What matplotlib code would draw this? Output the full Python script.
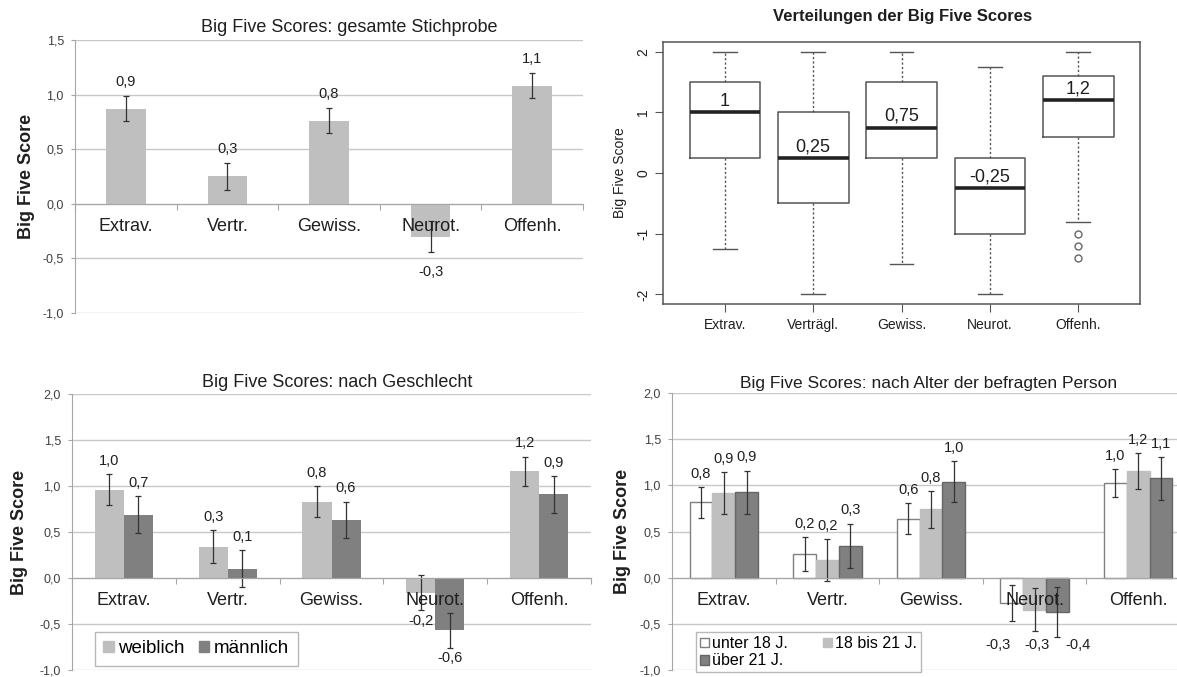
import matplotlib
matplotlib.use("Agg")
import matplotlib.pyplot as plt
from matplotlib.ticker import FuncFormatter, MultipleLocator
from matplotlib.patches import Patch
import numpy as np

plt.rcParams['font.family'] = ['Liberation Sans', 'DejaVu Sans']
plt.rcParams['axes.unicode_minus'] = False

W, H = 1177, 677

# ---------------- data ----------------
categories = ["Extrav.", "Vertr.", "Gewiss.", "Neurot.", "Offenh."]
box_categories = ["Extrav.", "Verträgl.", "Gewiss.", "Neurot.", "Offenh."]

# Panel 1: gesamte Stichprobe
total_means = [0.87, 0.25, 0.76, -0.30, 1.08]
total_err = [0.115, 0.125, 0.115, 0.14, 0.115]
total_labels = ["0,9", "0,3", "0,8", "-0,3", "1,1"]

# Panel 2: boxplot statistics
box_whislo = [-1.25, -2.0, -1.5, -2.0, -0.8]
box_q1 = [0.25, -0.5, 0.25, -1.0, 0.6]
box_med = [1.0, 0.25, 0.75, -0.25, 1.2]
box_q3 = [1.5, 1.0, 1.5, 0.25, 1.6]
box_whishi = [2.0, 2.0, 2.0, 1.75, 2.0]
box_fliers = [[], [], [], [], [-1.0, -1.2, -1.4]]
box_labels = ["1", "0,25", "0,75", "-0,25", "1,2"]

# Panel 3: nach Geschlecht
sex_names = ["weiblich", "männlich"]
female_means = [0.96, 0.34, 0.83, -0.16, 1.16]
female_err = [0.17, 0.18, 0.17, 0.19, 0.16]
female_labels = ["1,0", "0,3", "0,8", "-0,2", "1,2"]
male_means = [0.69, 0.10, 0.63, -0.57, 0.91]
male_err = [0.20, 0.20, 0.20, 0.19, 0.20]
male_labels = ["0,7", "0,1", "0,6", "-0,6", "0,9"]

# Panel 4: nach Alter
age_names = ["unter 18 J.", "18 bis 21 J.", "über 21 J."]
young_means = [0.815, 0.256, 0.64, -0.274, 1.025]
young_err = [0.165, 0.18, 0.17, 0.19, 0.155]
young_labels = ["0,8", "0,2", "0,6", "-0,3", "1,0"]
mid_means = [0.918, 0.19, 0.74, -0.345, 1.15]
mid_err = [0.225, 0.225, 0.2, 0.235, 0.195]
mid_labels = ["0,9", "0,2", "0,8", "-0,3", "1,2"]
old_means = [0.925, 0.345, 1.04, -0.37, 1.075]
old_err = [0.235, 0.24, 0.225, 0.27, 0.235]
old_labels = ["0,9", "0,3", "1,0", "-0,4", "1,1"]

# ---------------- styling ----------------
LIGHT = '#BFBFBF'
DARK = '#808080'
GRID = '#C8C8C8'
AXC = '#A6A6A6'
TXT = '#1F1F1F'

fig = plt.figure(figsize=(W / 100, H / 100), dpi=100)


def px_axes(l, t, r, b):
    return fig.add_axes([l / W, 1 - b / H, (r - l) / W, (b - t) / H])


def fig_text(x, y, s, **kw):
    fig.text(x / W, 1 - y / H, s, **kw)


def comma_fmt(v, p):
    if abs(v) < 1e-9:
        v = 0.0
    return f"{v:.1f}".replace('.', ',')


def excel_axes(ax, ylo, yhi, ylab_x_px, ax_left_px, ax_w_px):
    ax.set_xlim(-0.5, 4.5)
    ax.set_ylim(ylo, yhi)
    ax.yaxis.set_major_locator(MultipleLocator(0.5))
    ax.yaxis.set_major_formatter(FuncFormatter(comma_fmt))
    ax.grid(axis='y', color=GRID, lw=1.0)
    ax.set_axisbelow(True)
    for s in ['top', 'right']:
        ax.spines[s].set_visible(False)
    ax.spines['bottom'].set_position(('data', 0))
    ax.spines['bottom'].set_color(AXC)
    ax.spines['left'].set_color(AXC)
    ax.set_xticks(np.arange(-0.5, 5.0, 1.0))
    ax.set_xticklabels([])
    ax.tick_params(axis='x', direction='out', length=4, color=AXC)
    ax.tick_params(axis='y', direction='out', length=3, color=AXC,
                   labelsize=9, labelcolor='#404040', pad=5)
    for i, c in enumerate(categories):
        ax.annotate(c, (i, 0), xytext=(0, -16.5), textcoords='offset points',
                    ha='center', va='center', fontsize=13, color=TXT,
                    annotation_clip=False)
    ax.set_ylabel("Big Five Score", fontsize=13, fontweight='bold', color=TXT)
    # label anchor is the right edge of the rotated text (~9 px from its centre)
    ax.yaxis.set_label_coords((ylab_x_px + 9 - ax_left_px) / ax_w_px, 0.5)


def value_labels(ax, xs, means, errs, labels, up=10, down=-14, fs=10.5):
    for x, m, e, lab in zip(xs, means, errs, labels):
        if m >= 0:
            ax.annotate(lab, (x, m + e), xytext=(0, up), textcoords='offset points',
                        ha='center', va='center', fontsize=fs, color=TXT)
        else:
            ax.annotate(lab, (x, m - e), xytext=(0, down), textcoords='offset points',
                        ha='center', va='center', fontsize=fs, color=TXT)


ekw = dict(ecolor='#333333', elinewidth=0.9, capsize=2.5, capthick=0.9)
xs = np.arange(len(categories))

# ---------------- Panel 1 ----------------
L1, T1, R1, B1 = 75, 40, 583, 313
ax1 = px_axes(L1, T1, R1, B1)
excel_axes(ax1, -1.0, 1.5, 26, L1, R1 - L1)
ax1.bar(xs, total_means, width=0.39, color=LIGHT, yerr=total_err, error_kw=ekw, zorder=2)
value_labels(ax1, xs, total_means, total_err, total_labels, up=10, down=-14.5)
fig_text(349, 27, "Big Five Scores: gesamte Stichprobe", ha='center', va='center',
         fontsize=13, color=TXT)

# ---------------- Panel 2 ----------------
L2, T2, R2, B2 = 663, 42, 1140, 304
ax2 = px_axes(L2, T2, R2, B2)
stats = []
for i in range(len(box_categories)):
    stats.append(dict(med=box_med[i], q1=box_q1[i], q3=box_q3[i],
                      whislo=box_whislo[i], whishi=box_whishi[i],
                      fliers=box_fliers[i], label=box_categories[i]))
pos = np.arange(1, len(box_categories) + 1)
BC = '#555555'
ax2.bxp(stats, positions=pos, widths=0.8, capwidths=0.27,
        boxprops=dict(color=BC, lw=1.1),
        medianprops=dict(color='#222222', lw=2.6),
        whiskerprops=dict(color=BC, lw=1.0, ls=(0, (1.6, 1.6))),
        capprops=dict(color=BC, lw=1.0),
        flierprops=dict(marker='o', mfc='none', mec='#666666', ms=5, mew=1.0))
ax2.set_xlim(0.3, 5.7)
ax2.set_ylim(-2.16, 2.16)
ax2.set_yticks([-2, -1, 0, 1, 2])
ax2.set_yticklabels(["-2", "-1", "0", "1", "2"], rotation=90, va='center')
ax2.set_xticks(pos)
ax2.set_xticklabels(box_categories)
for s in ax2.spines.values():
    s.set_color(BC)
    s.set_linewidth(1.1)
ax2.tick_params(axis='both', direction='out', length=6, color=BC, labelsize=10,
                labelcolor=TXT)
ax2.tick_params(axis='y', pad=3)
ax2.tick_params(axis='x', pad=4)
ax2.set_ylabel("Big Five Score", fontsize=10, color=TXT)
ax2.yaxis.set_label_coords((627 - L2) / (R2 - L2), 0.5)
for p, m, lab in zip(pos, box_med, box_labels):
    ax2.annotate(lab, (p, m), xytext=(0, 8), textcoords='offset points',
                 ha='center', va='center', fontsize=13, color=TXT)
fig_text(903, 16, "Verteilungen der Big Five Scores", ha='center', va='center',
         fontsize=12, fontweight='bold', color=TXT)

# ---------------- Panel 3 ----------------
L3, T3, R3, B3 = 72, 394, 591, 670
ax3 = px_axes(L3, T3, R3, B3)
excel_axes(ax3, -1.0, 2.0, 19, L3, R3 - L3)
bw3 = 0.28
ax3.bar(xs - bw3 / 2, female_means, width=bw3, color=LIGHT, yerr=female_err,
        error_kw=ekw, zorder=2, label=sex_names[0])
ax3.bar(xs + bw3 / 2, male_means, width=bw3, color=DARK, yerr=male_err,
        error_kw=ekw, zorder=2, label=sex_names[1])
value_labels(ax3, xs - bw3 / 2, female_means, female_err, female_labels, up=9.5, down=-7.5)
value_labels(ax3, xs + bw3 / 2, male_means, male_err, male_labels, up=9.5, down=-7.5)
fig_text(337, 382, "Big Five Scores: nach Geschlecht", ha='center', va='center',
         fontsize=13, color=TXT)
leg3 = fig.legend(handles=[Patch(color=LIGHT), Patch(color=DARK)], labels=sex_names,
                  ncol=2, loc='upper left', bbox_to_anchor=(95 / W, 1 - 632 / H),
                  fontsize=13.5, frameon=True, fancybox=False, edgecolor=AXC,
                  handlelength=0.55, handleheight=0.55, handletextpad=0.25,
                  columnspacing=0.75, borderpad=0.45, borderaxespad=0)
leg3.get_frame().set_linewidth(1.0)

# ---------------- Panel 4 ----------------
L4, T4, R4, B4 = 672, 393, 1190, 670
ax4 = px_axes(L4, T4, R4, B4)
excel_axes(ax4, -1.0, 2.0, 622, L4, R4 - L4)
bw4 = 0.22
series4 = [(young_means, young_err, young_labels, 'white', DARK),
           (mid_means, mid_err, mid_labels, LIGHT, LIGHT),
           (old_means, old_err, old_labels, DARK, '#666666')]
handles4 = []
neg_floor = min(min(m - e for m, e in zip(s[0], s[1]) if m < 0) for s in series4)
neg_dx = [-10, 2, 15]
for j, (m, e, labs, fc, ec) in enumerate(series4):
    xj = xs + (j - 1) * bw4
    ax4.bar(xj, m, width=bw4, color=fc, edgecolor=ec, linewidth=1.0,
            yerr=e, error_kw=ekw, zorder=2)
    handles4.append(Patch(facecolor=fc, edgecolor=ec, linewidth=1.0))
    for x, mm, ee, lab in zip(xj, m, e, labs):
        if mm >= 0:
            ax4.annotate(lab, (x, mm + ee), xytext=(0, 9.5), textcoords='offset points',
                         ha='center', va='center', fontsize=10.5, color=TXT)
        else:
            ax4.annotate(lab, (x, neg_floor), xytext=(neg_dx[j], -6),
                         textcoords='offset points', ha='center', va='center',
                         fontsize=10.5, color=TXT)
fig_text(929, 383, "Big Five Scores: nach Alter der befragten Person", ha='center',
         va='center', fontsize=12.5, color=TXT)
leg4 = fig.legend(handles=[handles4[0], handles4[2], handles4[1]],
                  labels=[age_names[0], age_names[2], age_names[1]],
                  ncol=2, loc='upper left', bbox_to_anchor=(696 / W, 1 - 632 / H),
                  fontsize=11.5, frameon=True, fancybox=False, edgecolor=AXC,
                  handlelength=0.55, handleheight=0.55, handletextpad=0.2,
                  columnspacing=2.2, borderpad=0.25, borderaxespad=0,
                  labelspacing=0.15)
leg4.get_frame().set_linewidth(1.0)

fig.savefig("out.png", dpi=100)
